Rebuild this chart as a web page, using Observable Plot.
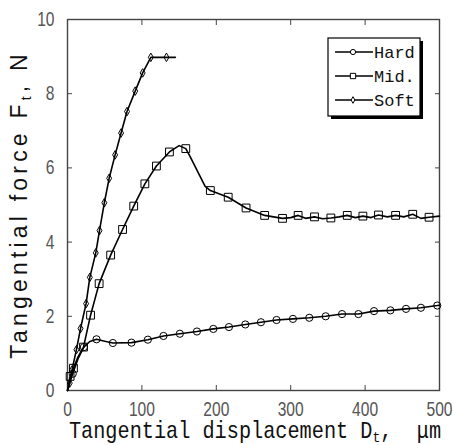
<!DOCTYPE html>
<html><head><meta charset="utf-8">
<script src="https://cdn.jsdelivr.net/npm/d3@7"></script>
<script src="https://cdn.jsdelivr.net/npm/@observablehq/plot@0.6"></script>
<style>body{margin:0;background:#fff} #chart{width:453px;height:445px}</style>
</head><body><div id="chart"></div>
<script>
const seriesNames = ["Hard", "Mid.", "Soft"];
const xTicks = [0, 100, 200, 300, 400, 500];
const yTicks = [0, 2, 4, 6, 8, 10];

const hardX = [0, 3, 7, 14, 22, 30, 39, 50, 61, 86, 108, 129, 151, 174, 196, 217, 239, 260, 281, 303, 325, 347, 369, 391, 412, 434, 455, 475, 497, 500];
const hardY = [0, 0.2, 0.45, 0.85, 1.17, 1.32, 1.38, 1.33, 1.28, 1.29, 1.37, 1.47, 1.53, 1.59, 1.66, 1.71, 1.78, 1.84, 1.9, 1.93, 1.96, 2.0, 2.06, 2.06, 2.14, 2.16, 2.2, 2.23, 2.29, 2.3];
const hardM = [0, 0, 1, 0, 1, 0, 1, 0, 1, 1, 1, 1, 1, 1, 1, 1, 1, 1, 1, 1, 1, 1, 1, 1, 1, 1, 1, 1, 1, 0];

const midX = [0, 3.5, 8, 14, 21.5, 31, 42.5, 58, 74, 89, 104, 119.5, 137, 150, 159, 165, 175, 185, 192, 216, 240, 265, 289, 300, 310, 320, 332, 343, 354, 365, 376, 387, 397, 408, 418, 430, 441, 452, 464, 475, 486, 500];
const midY = [0, 0.38, 0.6, 0.9, 1.17, 2.03, 2.88, 3.65, 4.34, 4.97, 5.57, 6.05, 6.43, 6.6, 6.52, 6.3, 5.9, 5.5, 5.39, 5.21, 4.92, 4.72, 4.64, 4.66, 4.72, 4.64, 4.68, 4.63, 4.65, 4.68, 4.72, 4.66, 4.7, 4.66, 4.73, 4.68, 4.72, 4.68, 4.75, 4.64, 4.67, 4.7];
const midM = [0, 1, 1, 0, 1, 1, 1, 1, 1, 1, 1, 1, 1, 0, 1, 0, 0, 0, 1, 1, 1, 1, 1, 0, 1, 0, 1, 0, 1, 0, 1, 0, 1, 0, 1, 0, 1, 0, 1, 0, 1, 0];

const softX = [0, 3, 6, 12, 17.5, 25, 30, 38, 43, 49.5, 56, 64, 72, 80, 91, 101, 112, 133, 145];
const softY = [0, 0.2, 0.55, 1.1, 1.67, 2.34, 3.05, 3.71, 4.31, 5.06, 5.72, 6.35, 6.94, 7.52, 8.07, 8.56, 8.98, 8.98, 8.98];
const softM = [0, 1, 1, 1, 1, 1, 1, 1, 1, 1, 1, 1, 1, 1, 1, 1, 1, 1, 0];

const rows = (name, xs, ys, ms) => xs.map((x, i) => ({series: name, x, y: ys[i], m: ms[i] === 1}));
const hard = rows(seriesNames[0], hardX, hardY, hardM);
const mid = rows(seriesNames[1], midX, midY, midM);
const soft = rows(seriesNames[2], softX, softY, softM);
const all = [...hard, ...mid, ...soft];

const W = 453, H = 445, ML = 67, MR = 14, MT = 19, MB = 55;
const axisCol = "#444";
const plot = Plot.plot({
  width: W, height: H, marginLeft: ML, marginRight: MR, marginTop: MT, marginBottom: MB,
  style: {fontFamily: "'Liberation Sans', Arial, sans-serif", fontSize: "20px", color: "#555", background: "#fff"},
  x: {domain: [0, 500]},
  y: {domain: [0, 10]},
  marks: [
    Plot.axisX({ticks: xTicks, tickSize: -5, tickPadding: 16, label: null, stroke: axisCol, fill: "#555"}),
    Plot.axisX({anchor: "top", ticks: xTicks, tickSize: -5, tickFormat: () => "", label: null, stroke: axisCol}),
    Plot.axisY({ticks: yTicks, tickSize: -5, tickPadding: 18, label: null, stroke: axisCol, fill: "#555"}),
    Plot.axisY({anchor: "right", ticks: yTicks, tickSize: -5, tickFormat: () => "", label: null, stroke: axisCol}),
    Plot.frame({stroke: axisCol, strokeWidth: 1.4}),
    Plot.line(all, {x: "x", y: "y", z: "series", stroke: "#000", strokeWidth: 1.6, curve: "linear"}),
    Plot.dot(hard.filter(d => d.m), {x: "x", y: "y", symbol: "circle", r: 3.6, stroke: "#000", strokeWidth: 1, fill: "none"}),
    Plot.dot(mid.filter(d => d.m), {x: "x", y: "y", symbol: "square", r: 4.4, stroke: "#000", strokeWidth: 1, fill: "none"}),
    Plot.dot(soft.filter(d => d.m), {x: "x", y: "y", symbol: "diamond", r: 2.6, stroke: "#000", strokeWidth: 1, fill: "none"})
  ]
});
document.getElementById("chart").appendChild(plot);

const svg = d3.select(plot);
// narrow tick labels
svg.selectAll('g[aria-label="x-axis tick label"] text, g[aria-label="y-axis tick label"] text').each(function() {
  const t = this.getAttribute("transform") || "";
  this.setAttribute("transform", t + " scale(0.78,1)");
});

// x-axis label
const xl = svg.append("text")
  .attr("transform", `translate(${(ML + W - MR) / 2 + 2},438) scale(0.88,1)`)
  .attr("text-anchor", "middle")
  .attr("font-family", "'Liberation Mono', 'DejaVu Sans Mono', monospace")
  .attr("font-size", 23).attr("fill", "#111");
xl.append("tspan").text("Tangential displacement D");
xl.append("tspan").attr("font-size", 15).attr("dy", 4).text("t");
xl.append("tspan").attr("dy", -4).text(",  \u03bcm");

// y-axis label
const yl = svg.append("text")
  .attr("transform", `translate(27,${(MT + H - MB) / 2}) rotate(-90)`)
  .attr("text-anchor", "middle")
  .attr("font-family", "'Liberation Sans', Arial, sans-serif")
  .attr("letter-spacing", 4.2)
  .attr("font-size", 23).attr("fill", "#111");
yl.append("tspan").text("Tangential force F");
yl.append("tspan").attr("font-size", 14).attr("dy", 4).text("t");
yl.append("tspan").attr("dy", -4).text(", N");

// legend
const lg = svg.append("g");
const bx = 328, by = 38, bw = 92, bh = 78;
lg.append("rect").attr("x", bx + 3).attr("y", by + 3).attr("width", bw).attr("height", bh).attr("fill", "#000");
lg.append("rect").attr("x", bx).attr("y", by).attr("width", bw).attr("height", bh).attr("fill", "#fff").attr("stroke", "#000").attr("stroke-width", 1.2);
const syms = [d3.symbolCircle, d3.symbolSquare, d3.symbolDiamond];
const sizes = [Math.PI * 2.6 * 2.6, Math.PI * 3.0 * 3.0, Math.PI * 2.0 * 2.0];
seriesNames.forEach((name, i) => {
  const yy = by + 14 + i * 24;
  lg.append("line").attr("x1", bx + 7).attr("x2", bx + 45).attr("y1", yy).attr("y2", yy).attr("stroke", "#000").attr("stroke-width", 1.3);
  lg.append("path").attr("d", d3.symbol(syms[i], sizes[i])()).attr("transform", `translate(${bx + 25},${yy})`)
    .attr("fill", "#fff").attr("stroke", "#000");
  lg.append("text").attr("x", bx + 46).attr("y", yy + 6).attr("text-anchor", "start")
    .attr("font-family", "'Liberation Mono', 'DejaVu Sans Mono', monospace")
    .attr("font-size", 17).attr("fill", "#111").text(name);
});
</script>
</body></html>
